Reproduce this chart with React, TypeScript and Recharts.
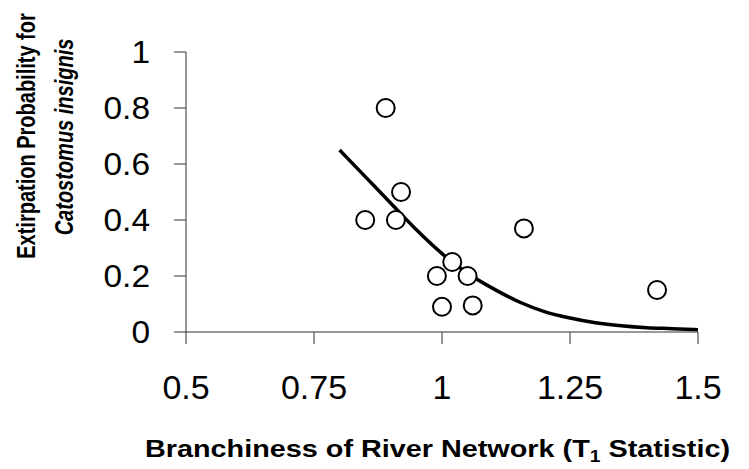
import React from "react";
import { ComposedChart, XAxis, YAxis, Scatter, Line } from "recharts";

const pointX = [0.85, 0.89, 0.91, 0.92, 0.99, 1.0, 1.02, 1.05, 1.06, 1.16, 1.42];
const pointY = [0.40, 0.80, 0.40, 0.50, 0.20, 0.09, 0.25, 0.20, 0.095, 0.37, 0.15];

const curveX = [0.8, 0.85, 0.9, 0.95, 1.0, 1.05, 1.1, 1.15, 1.2, 1.25, 1.3, 1.35, 1.4, 1.45, 1.5];
const curveY = [0.65, 0.555, 0.46, 0.365, 0.28, 0.21, 0.155, 0.108, 0.073, 0.05, 0.033, 0.022, 0.015, 0.012, 0.008];

const xTicks = [0.5, 0.75, 1, 1.25, 1.5];
const yTicks = [0, 0.2, 0.4, 0.6, 0.8, 1];

const points = pointX.map((x, i) => ({ x, y: pointY[i] }));
const curve = curveX.map((x, i) => ({ x, y: curveY[i] }));

const FONT = "'Liberation Sans', Arial, sans-serif";

const YTick = (props: any) => {
  const { x, y, payload } = props;
  return (
    <text
      transform={`translate(${x},${y}) scale(1.08,1)`}
      textAnchor="end"
      dy="0.355em"
      fontSize={31}
      fontFamily={FONT}
      fill="#000"
    >
      {payload.value}
    </text>
  );
};

const XTick = (props: any) => {
  const { x, y, payload } = props;
  return (
    <text
      transform={`translate(${x},${y})`}
      textAnchor="middle"
      dy="0.71em"
      fontSize={34}
      fontFamily={FONT}
      fill="#000"
    >
      {payload.value}
    </text>
  );
};

const Dot = (props: any) => {
  const { cx, cy } = props;
  return <circle cx={cx} cy={cy} r={9} fill="#fff" stroke="#000" strokeWidth={2} />;
};

const Titles = () => (
  <g fontFamily={FONT} fontWeight="bold" fill="#000">
    <text transform="translate(35,136) rotate(-90) scale(1,1.28)" textAnchor="middle" fontSize={20}>
      Extirpation Probability for
    </text>
    <text
      transform="translate(73,137) rotate(-90) scale(1,1.28)"
      textAnchor="middle"
      fontSize={20}
      fontStyle="italic"
    >
      Catostomus insignis
    </text>
    <text transform="translate(437.5,457.3) scale(1.2,1)" textAnchor="middle" fontSize={24}>
      Branchiness of River Network (T<tspan fontSize={16} dy={5}>1</tspan>
      <tspan dy={-5}> Statistic)</tspan>
    </text>
  </g>
);

export default function App() {
  return (
    <div style={{ position: "absolute", left: 0, top: 0, width: 749, height: 469, background: "#fff" }}>
      <ComposedChart width={749} height={469} margin={{ top: 52, right: 51, left: 0, bottom: 0 }}>
        <XAxis
          dataKey="x"
          type="number"
          domain={[0.5, 1.5]}
          ticks={xTicks}
          height={137}
          tickSize={12}
          tickMargin={31}
          tick={<XTick />}
          axisLine={{ stroke: "#333", strokeWidth: 1 }}
          tickLine={{ stroke: "#333", strokeWidth: 1 }}
          allowDataOverflow
        />
        <YAxis
          dataKey="y"
          type="number"
          domain={[0, 1]}
          ticks={yTicks}
          width={186}
          tickSize={12}
          tickMargin={24}
          tick={<YTick />}
          axisLine={{ stroke: "#333", strokeWidth: 1 }}
          tickLine={{ stroke: "#333", strokeWidth: 1 }}
          label={{ content: () => <Titles /> }}
        />
        <Line
          data={curve}
          dataKey="y"
          type="monotone"
          stroke="#000"
          strokeWidth={3.5}
          dot={false}
          activeDot={false}
          isAnimationActive={false}
        />
        <Scatter data={points} dataKey="y" shape={<Dot />} isAnimationActive={false} />
      </ComposedChart>
    </div>
  );
}
